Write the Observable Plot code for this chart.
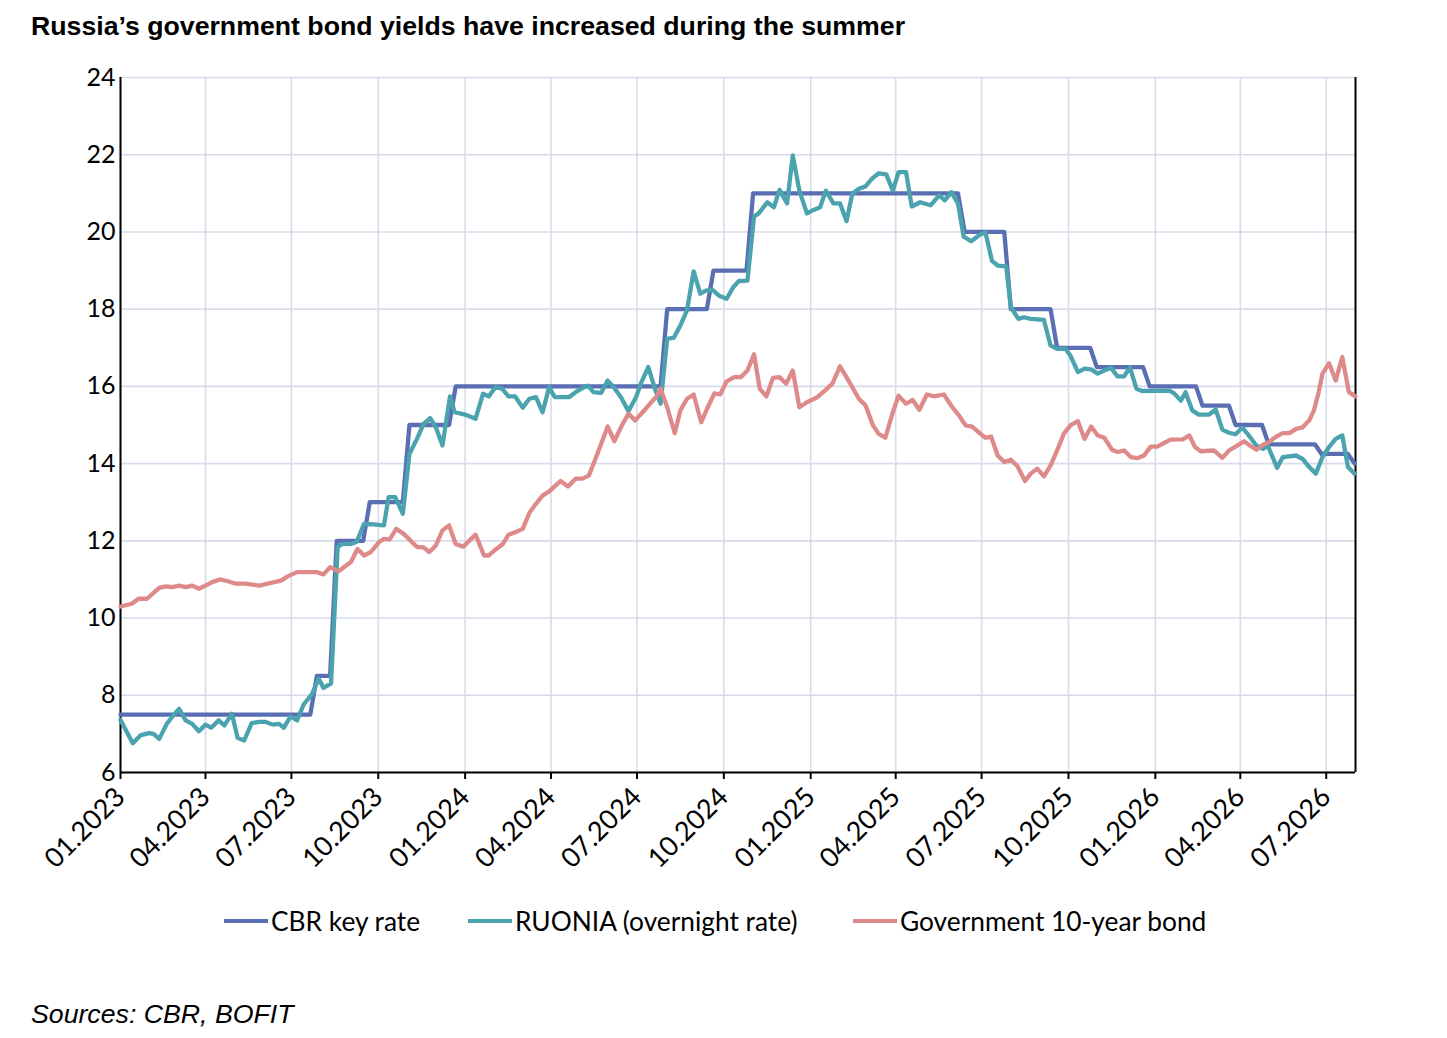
<!DOCTYPE html>
<html><head><meta charset="utf-8">
<script src="https://cdn.jsdelivr.net/npm/d3@7"></script>
<script src="https://cdn.jsdelivr.net/npm/@observablehq/plot@0.6"></script>
<style>
body{margin:0;background:#fff;}
#wrap{position:relative;width:1447px;height:1038px;overflow:hidden;font-family:Lato,sans-serif;color:#000;background:#fff}
#title{position:absolute;left:31px;top:11px;font:bold 26.7px "Liberation Sans",Arial,sans-serif;white-space:nowrap;line-height:30px}
#chart{position:absolute;left:0;top:50px}
#legend{position:absolute;top:904px;left:0;width:1447px;height:34px}
.item{position:absolute;top:0;display:flex;align-items:center;height:34px;font-size:26.3px;white-space:nowrap;font-family:Lato,sans-serif}
.sw{width:44px;height:4px;margin-right:3px}
#source{position:absolute;left:31px;top:998px;font:italic 26.7px "Liberation Sans",Arial,sans-serif;white-space:nowrap;line-height:32px}
</style></head>
<body>
<div id="wrap">
  <div id="title">Russia’s government bond yields have increased during the summer</div>
  <div id="chart"></div>
  <div id="legend"></div>
  <div id="source">Sources: CBR, BOFIT</div>
</div>
<script>
// Days are counted from 2023-01-01
const startISO = "2023-01-01";
const endDay = 1308;

const seriesNames = ["CBR key rate", "RUONIA (overnight rate)", "Government 10-year bond"];
const seriesColors = ["#5a6eb4", "#4aa3ae", "#df8a8a"];

const keyDays = [0,201,208,222,229,257,264,299,306,348,355,572,579,621,628,663,670,887,894,936,943,985,992,1027,1034,1083,1090,1139,1146,1174,1181,1209,1216,1265,1272,1300,1307];
const keyValues = [7.5,7.5,8.5,8.5,12,12,13,13,15,15,16,16,18,18,19,19,21,21,20,20,18,18,17,17,16.5,16.5,16,16,15.5,15.5,15,15,14.5,14.5,14.25,14.25,14];

const ruoniaDays = [0,13,21,30,35,41,49,55,62,69,76,83,90,96,104,110,118,124,131,139,147,154,161,168,173,180,187,194,203,210,215,223,230,235,244,250,258,265,279,284,291,299,306,314,321,328,334,341,349,354,365,376,384,390,397,404,411,418,426,433,440,447,454,460,475,482,491,495,501,509,516,523,530,538,546,551,559,566,572,579,586,593,600,607,614,620,627,634,642,649,655,664,671,676,685,692,698,706,712,719,727,734,741,747,755,762,769,775,782,789,796,803,811,818,824,832,838,847,858,867,873,880,887,893,901,909,916,923,929,938,943,951,957,964,978,985,992,1001,1006,1014,1021,1028,1035,1042,1049,1056,1063,1069,1076,1082,1111,1116,1123,1128,1135,1142,1153,1160,1167,1174,1181,1188,1195,1203,1210,1215,1225,1231,1245,1252,1259,1266,1273,1280,1287,1294,1300,1307];
const ruoniaValues = [7.36,6.76,6.96,7.02,7.00,6.87,7.26,7.45,7.65,7.35,7.26,7.07,7.24,7.16,7.35,7.22,7.52,6.90,6.83,7.28,7.31,7.31,7.24,7.26,7.16,7.45,7.35,7.76,8.04,8.43,8.19,8.31,11.84,11.92,11.92,11.97,12.44,12.43,12.40,13.13,13.13,12.70,14.25,14.64,15.03,15.18,14.94,14.47,15.74,15.33,15.27,15.16,15.81,15.74,15.98,15.94,15.74,15.74,15.45,15.68,15.72,15.33,15.98,15.72,15.72,15.85,15.98,16.02,15.85,15.83,16.15,15.96,15.72,15.36,15.72,16.07,16.50,15.94,15.55,17.23,17.26,17.58,17.97,18.98,18.40,18.48,18.50,18.35,18.27,18.57,18.73,18.74,20.40,20.48,20.77,20.64,21.09,20.74,21.98,21.07,20.48,20.57,20.64,21.07,20.74,20.74,20.28,20.99,21.12,21.18,21.38,21.52,21.49,21.07,21.55,21.55,20.66,20.77,20.69,20.95,20.82,21.03,20.73,19.88,19.76,19.91,19.99,19.25,19.13,19.11,18.05,17.75,17.79,17.75,17.72,17.06,16.97,16.97,16.80,16.37,16.46,16.44,16.33,16.41,16.48,16.26,16.26,16.50,15.94,15.88,15.89,15.82,15.63,15.85,15.38,15.27,15.27,15.40,14.88,14.80,14.76,14.93,14.73,14.47,14.38,14.47,13.89,14.17,14.21,14.12,13.91,13.74,14.17,14.43,14.64,14.73,13.91,13.74];

const bondDays = [0,12,19,28,41,48,55,62,69,76,83,90,97,105,113,122,132,147,157,170,177,187,208,215,222,231,244,251,258,265,274,279,285,292,300,314,321,327,334,341,348,355,363,376,385,390,397,405,411,418,426,433,440,447,454,463,466,474,482,489,496,503,516,523,531,538,545,553,560,567,572,579,587,593,600,607,615,622,629,635,642,650,657,664,671,677,684,691,698,705,712,719,727,738,746,754,762,772,782,789,797,803,810,817,824,832,839,846,854,862,872,881,888,895,902,909,916,922,929,936,943,950,958,964,971,978,985,992,999,1006,1014,1021,1028,1035,1042,1050,1056,1063,1070,1077,1084,1091,1098,1105,1112,1125,1132,1138,1144,1158,1167,1174,1181,1190,1195,1203,1210,1216,1224,1231,1238,1245,1252,1259,1264,1269,1273,1280,1287,1294,1301,1308];
const bondValues = [10.30,10.37,10.50,10.50,10.78,10.82,10.80,10.84,10.80,10.84,10.76,10.84,10.93,11.00,10.96,10.89,10.89,10.84,10.90,10.97,11.08,11.19,11.19,11.13,11.32,11.21,11.45,11.79,11.62,11.71,11.97,12.05,12.04,12.31,12.18,11.84,11.83,11.71,11.88,12.27,12.40,11.92,11.85,12.16,11.62,11.62,11.77,11.92,12.16,12.22,12.31,12.72,12.96,13.17,13.28,13.48,13.55,13.41,13.61,13.61,13.69,14.12,14.96,14.58,14.99,15.29,15.12,15.33,15.53,15.72,15.94,15.46,14.79,15.38,15.68,15.79,15.07,15.46,15.82,15.79,16.13,16.24,16.24,16.41,16.83,15.94,15.74,16.22,16.24,16.07,16.41,15.46,15.59,15.72,15.89,16.07,16.52,16.11,15.68,15.51,14.99,14.77,14.67,15.25,15.76,15.55,15.65,15.39,15.79,15.74,15.79,15.46,15.25,14.99,14.96,14.81,14.67,14.70,14.21,14.04,14.10,13.93,13.55,13.74,13.87,13.67,13.95,14.34,14.77,14.99,15.10,14.64,14.96,14.73,14.67,14.36,14.30,14.34,14.17,14.14,14.21,14.44,14.44,14.53,14.62,14.63,14.73,14.43,14.32,14.34,14.15,14.34,14.44,14.58,14.49,14.36,14.49,14.55,14.70,14.79,14.79,14.90,14.94,15.12,15.38,15.85,16.33,16.60,16.15,16.76,15.85,15.74];

const yTicks = [6,8,10,12,14,16,18,20,22,24];
const xTickDates = ["2023-01-01","2023-04-01","2023-07-01","2023-10-01","2024-01-01","2024-04-01","2024-07-01","2024-10-01","2025-01-01","2025-04-01","2025-07-01","2025-10-01","2026-01-01","2026-04-01","2026-07-01"];
const xTickLabels = ["01.2023","04.2023","07.2023","10.2023","01.2024","04.2024","07.2024","10.2024","01.2025","04.2025","07.2025","10.2025","01.2026","04.2026","07.2026"];

const start = new Date(startISO);
const toDate = d => new Date(start.getTime() + d * 86400000);
const build = (days, vals) => days.map((d, i) => ({date: toDate(d), value: vals[i]}));
const keyData = build(keyDays, keyValues);
const ruoniaData = build(ruoniaDays, ruoniaValues);
const bondData = build(bondDays, bondValues);
const tickDates = xTickDates.map(s => new Date(s));
const labelByTime = new Map(tickDates.map((d, i) => [+d, xTickLabels[i]]));
const xEnd = toDate(endDay);

const gridColor = "#d8dbeb";

const chart = Plot.plot({
  width: 1447,
  height: 850,
  marginLeft: 120,
  marginRight: 92,
  marginTop: 27,
  marginBottom: 128,
  style: {fontFamily: "Lato, sans-serif", background: "#fff", color: "#000"},
  x: {type: "utc", domain: [start, xEnd], label: null},
  y: {domain: [6, 24], label: null},
  marks: [
    Plot.gridY(yTicks, {stroke: gridColor, strokeOpacity: 1, strokeWidth: 1.6}),
    Plot.gridX(tickDates, {stroke: gridColor, strokeOpacity: 1, strokeWidth: 1.6}),
    Plot.axisY(yTicks, {tickSize: 0, tickPadding: 5, fontSize: 25, label: null, tickFormat: d => String(d)}),
    Plot.axisX(tickDates, {tickSize: 7, tickPadding: 13, tickRotate: -45, fontSize: 27, strokeWidth: 2, label: null, tickFormat: d => labelByTime.get(+d)}),
    Plot.ruleY([6], {stroke: "#000", strokeWidth: 2}),
    Plot.ruleX([start, xEnd], {stroke: "#000", strokeWidth: 2}),
    Plot.line(keyData, {x: "date", y: "value", stroke: seriesColors[0], strokeWidth: 4.3, strokeLinejoin: "round"}),
    Plot.line(ruoniaData, {x: "date", y: "value", stroke: seriesColors[1], strokeWidth: 4.3, strokeLinejoin: "round"}),
    Plot.line(bondData, {x: "date", y: "value", stroke: seriesColors[2], strokeWidth: 4.3, strokeLinejoin: "round"})
  ]
});
document.getElementById("chart").appendChild(chart);

const legendLeft = [224, 468, 853];
const legend = document.getElementById("legend");
seriesNames.forEach((name, i) => {
  const item = document.createElement("div");
  item.className = "item";
  item.style.left = legendLeft[i] + "px";
  const sw = document.createElement("span");
  sw.className = "sw";
  sw.style.background = seriesColors[i];
  const t = document.createElement("span");
  t.textContent = name;
  item.appendChild(sw);
  item.appendChild(t);
  legend.appendChild(item);
});
</script>
</body></html>
